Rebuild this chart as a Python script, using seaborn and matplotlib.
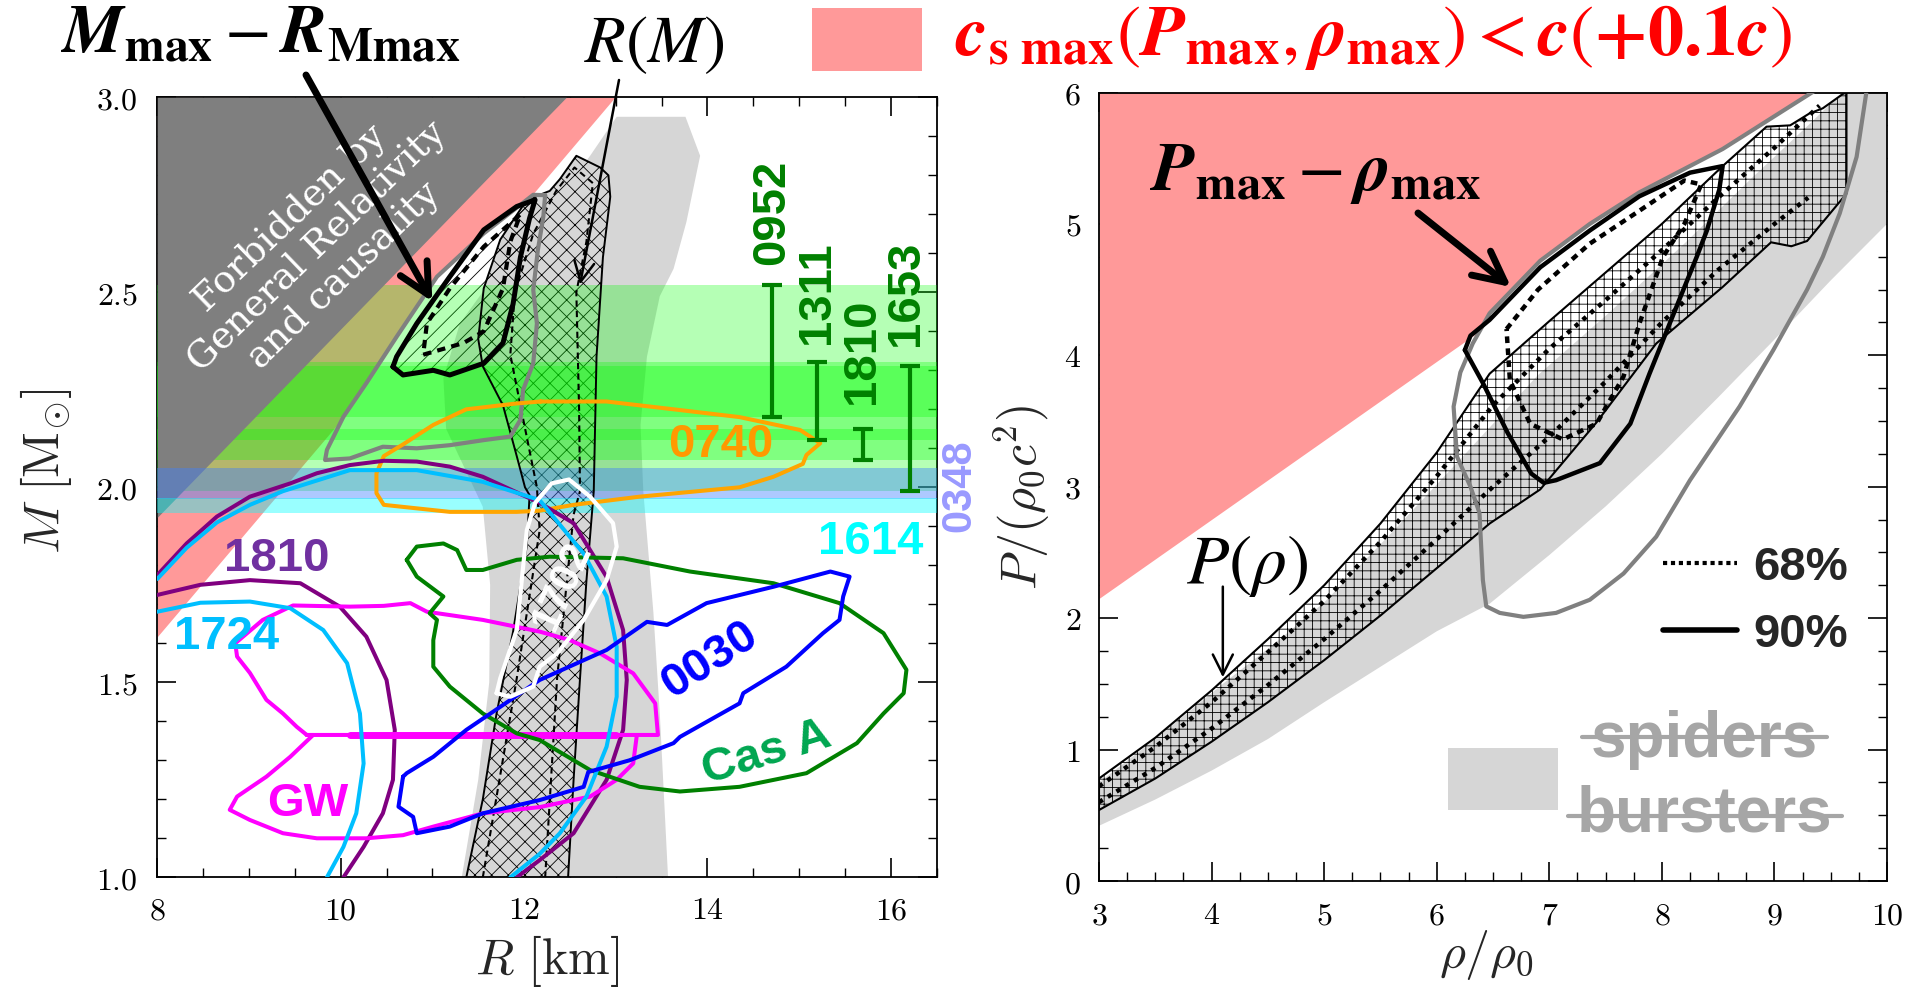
import matplotlib
matplotlib.use("Agg")
import numpy as np
import matplotlib.pyplot as plt
import seaborn as sns
from matplotlib.patches import Rectangle
from matplotlib.lines import Line2D
from matplotlib.ticker import MultipleLocator, FuncFormatter

# ---------------------------------------------------------------
# Mass-radius plane (left panel)
# ---------------------------------------------------------------
# edge of the c_s < c (+0.1c) region and of the GR + causality region
causal_R = [8.0, 12.99]
causal_M = [1.617, 3.0]
gr_R = [8.0, 12.46]
gr_M = [1.923, 3.0]

# spiders / bursters region
spider_R = [11.32, 11.5, 11.62, 11.63, 11.55, 11.35, 11.15, 11.12, 11.3, 11.7, 12.14, 12.5,
            12.72, 13.01, 13.76, 13.92, 13.77, 13.63, 13.48, 13.34, 13.27, 13.30, 13.41, 13.48, 13.57]
spider_M = [1.0, 1.25, 1.5, 1.75, 1.95, 2.05, 2.15, 2.28, 2.42, 2.55, 2.66, 2.78,
            2.85, 2.95, 2.95, 2.85, 2.68, 2.56, 2.49, 2.335, 2.16, 1.99, 1.68, 1.42, 1.0]

# R(M) band, 90% region
rm90_R = [11.37, 11.55, 11.70, 11.88, 12.03, 12.06, 12.01, 11.92, 11.77, 11.55, 11.50, 11.56,
          11.74, 12.03, 12.28, 12.39, 12.57, 12.83, 12.92, 12.94, 12.86, 12.79, 12.76, 12.68,
          12.61, 12.54, 12.48]
rm90_M = [1.0, 1.2, 1.42, 1.63, 1.85, 1.98, 2.0, 2.08, 2.21, 2.31, 2.38, 2.51,
          2.635, 2.737, 2.76, 2.79, 2.85, 2.82, 2.80, 2.745, 2.59, 2.335, 1.99, 1.76,
          1.51, 1.25, 1.0]
# R(M) band, 68% region
rm68_R = [11.55, 11.92, 12.17, 12.14, 11.96, 11.85, 11.9, 12.1, 12.35, 12.55, 12.75, 12.68,
          12.57, 12.6, 12.61, 12.54, 12.36, 12.23]
rm68_M = [1.0, 1.51, 1.89, 2.0, 2.21, 2.34, 2.5, 2.65, 2.76, 2.82, 2.78, 2.63,
          2.5, 2.2, 1.99, 1.93, 1.51, 1.0]

# M_max - R_Mmax posterior contours
mm90_R = [10.57, 10.68, 11.01, 11.19, 11.56, 11.77, 11.88, 11.96, 12.06, 12.12, 11.92, 11.56,
          11.19, 10.83, 10.61, 10.57]
mm90_M = [2.309, 2.288, 2.30, 2.288, 2.318, 2.37, 2.47, 2.59, 2.69, 2.737, 2.72, 2.66,
          2.54, 2.42, 2.335, 2.309]
mm68_R = [10.90, 11.34, 11.56, 11.77, 11.85, 11.96, 11.56, 11.19, 10.94, 10.90]
mm68_M = [2.34, 2.37, 2.40, 2.51, 2.63, 2.70, 2.617, 2.51, 2.42, 2.34]
mmg_R = [12.23, 12.21, 12.15, 12.10, 12.14, 12.10, 11.99, 11.96, 11.85, 11.56, 11.19, 10.83,
         10.46, 10.10, 9.83, 9.85, 10.03, 10.28, 10.61, 11.05, 11.56, 12.1, 12.23]
mmg_M = [2.749, 2.694, 2.608, 2.506, 2.42, 2.318, 2.25, 2.173, 2.13, 2.121, 2.108, 2.10,
         2.104, 2.074, 2.07, 2.096, 2.181, 2.267, 2.386, 2.54, 2.651, 2.75, 2.749]

# pulsar mass measurements (M +- err) and their error-bar columns
psr_names = ["0952", "1311", "1810", "1653"]
psr_M = [2.35, 2.22, 2.11, 2.15]
psr_err = [0.17, 0.10, 0.04, 0.16]
psr_col = [14.70, 15.19, 15.70, 16.21]
j0348_M, j0348_err = 2.01, 0.04
j1614_M, j1614_err = 1.953, 0.02

# observational contours
j0740_R = [12.18, 12.90, 13.63, 14.35, 15.01, 15.23, 15.08, 15.04, 14.72, 14.35, 13.26, 12.54,
           12.17, 11.92, 11.19, 10.47, 10.39, 10.39, 10.47, 10.68, 11.01, 11.37, 11.92, 12.18]
j0740_M = [2.22, 2.22, 2.20, 2.18, 2.147, 2.113, 2.083, 2.06, 2.027, 2.0, 1.976, 1.955,
           1.94, 1.937, 1.937, 1.955, 1.985, 2.036, 2.08, 2.11, 2.16, 2.20, 2.215, 2.22]

b1810_hi_R = [8.0, 8.32, 8.65, 9.01, 9.45, 9.74, 10.10, 10.47, 10.83, 11.19, 11.55, 12.17,
              12.54, 12.90, 13.08, 13.12, 13.08, 12.90, 12.54, 12.17, 11.92]
b1810_hi_M = [1.775, 1.856, 1.925, 1.976, 2.01, 2.036, 2.057, 2.068, 2.066, 2.053, 2.027, 1.96,
              1.908, 1.77, 1.634, 1.506, 1.378, 1.25, 1.113, 1.044, 1.0]
b1810_lo_R = [8.0, 8.47, 9.01, 9.56, 9.99, 10.28, 10.50, 10.59, 10.57, 10.46, 10.25, 10.03]
b1810_lo_M = [1.724, 1.75, 1.762, 1.754, 1.694, 1.617, 1.506, 1.378, 1.25, 1.164, 1.078, 1.0]

b1724_hi_R = [8.0, 8.32, 8.65, 9.01, 9.37, 10.10, 10.83, 11.55, 12.17, 12.65, 12.90, 13.01,
              13.01, 12.90, 12.68, 12.39, 12.17, 11.85]
b1724_hi_M = [1.765, 1.845, 1.91, 1.955, 1.99, 2.044, 2.044, 2.014, 1.967, 1.83, 1.72, 1.591,
              1.463, 1.335, 1.207, 1.113, 1.06, 1.0]
b1724_lo_R = [8.0, 8.47, 9.01, 9.45, 9.81, 10.07, 10.21, 10.25, 10.17, 10.03, 9.85]
b1724_lo_M = [1.681, 1.704, 1.707, 1.69, 1.634, 1.549, 1.42, 1.292, 1.164, 1.078, 1.0]

gw_up_R = [9.63, 9.52, 9.37, 9.19, 9.01, 8.87, 8.85, 9.15, 9.48, 10.10, 10.47, 10.76, 10.94,
           11.55, 12.17, 12.50, 12.83, 13.19, 13.43, 13.46, 9.63]
gw_up_M = [1.365, 1.386, 1.42, 1.455, 1.524, 1.566, 1.60, 1.66, 1.697, 1.694, 1.696, 1.703, 1.681,
           1.66, 1.63, 1.608, 1.574, 1.523, 1.446, 1.365, 1.365]
gw_lo_R = [9.70, 9.45, 9.19, 8.87, 8.79, 9.01, 9.37, 9.74, 10.28, 10.68, 11.01, 11.55, 12.17,
           12.72, 13.01, 13.19, 13.23]
gw_lo_M = [1.365, 1.309, 1.258, 1.207, 1.173, 1.147, 1.113, 1.10, 1.10, 1.108, 1.13, 1.164, 1.18,
           1.207, 1.25, 1.292, 1.365]
gw_eq_R = [10.1, 13.0]
gw_eq_M = [1.365, 1.365]

j0030_R = [10.68, 10.63, 10.79, 10.83, 11.19, 11.55, 12.17, 12.65, 12.70, 13.15, 13.63, 13.70,
           14.35, 14.39, 14.86, 15.26, 15.44, 15.48, 15.55, 15.34, 14.72, 13.99, 13.56, 13.34,
           12.90, 12.17, 11.74, 11.37, 11.01, 10.72, 10.68]
j0030_M = [1.258, 1.181, 1.155, 1.113, 1.13, 1.164, 1.198, 1.232, 1.27, 1.30, 1.344, 1.36,
           1.446, 1.472, 1.54, 1.626, 1.66, 1.72, 1.771, 1.784, 1.745, 1.703, 1.647, 1.655,
           1.583, 1.506, 1.437, 1.378, 1.309, 1.267, 1.258]

casa_R = [10.72, 10.83, 11.12, 11.27, 11.37, 11.55, 11.92, 12.28, 13.08, 13.81, 14.72, 15.44,
          15.92, 16.17, 16.14, 15.92, 15.63, 15.08, 14.35, 13.70, 13.26, 12.72, 12.17, 11.92,
          11.55, 11.19, 11.01, 11.01, 11.05, 10.97, 11.12, 10.83, 10.72]
casa_M = [1.814, 1.848, 1.856, 1.839, 1.788, 1.788, 1.814, 1.822, 1.818, 1.784, 1.754, 1.703,
          1.626, 1.532, 1.472, 1.42, 1.344, 1.267, 1.232, 1.22, 1.232, 1.275, 1.352, 1.369,
          1.42, 1.489, 1.54, 1.608, 1.66, 1.677, 1.72, 1.771, 1.814]

j1702_R = [11.70, 11.74, 11.92, 12.03, 12.12, 12.3, 12.49, 12.72, 12.97, 13.01, 12.90, 12.65,
           12.36, 12.17, 12.10, 11.85, 11.70]
j1702_M = [1.472, 1.51, 1.634, 1.89, 1.96, 2.01, 2.02, 1.976, 1.908, 1.848, 1.762, 1.66,
           1.574, 1.54, 1.489, 1.463, 1.472]

# ---------------------------------------------------------------
# Pressure-density plane (right panel)
# ---------------------------------------------------------------
cs_rho = [3.0, 9.4]
cs_P = [2.15, 6.0]

sb_rho = [3.0, 3.5, 4.0, 4.5, 5.0, 5.5, 6.0, 6.47, 7.0, 7.5, 8.0, 8.5, 9.0, 9.5, 10.0,
          10.0, 9.6, 9.3, 8.8, 8.2, 7.5, 6.9, 6.2, 5.6, 5.0, 4.55, 4.1, 3.5, 3.0]
sb_P = [0.42, 0.62, 0.84, 1.08, 1.36, 1.63, 1.9, 2.11, 2.48, 2.85, 3.25, 3.68, 4.12, 4.57, 5.0,
        6.0, 6.0, 5.75, 5.35, 4.85, 4.3, 3.85, 3.2, 2.65, 2.12, 1.8, 1.50, 1.08, 0.75]

band_rho = [3.0, 3.5, 4.0, 4.5, 5.0, 5.5, 6.0, 6.47, 6.92, 7.42, 7.95, 8.54, 8.97, 9.15, 9.29,
            9.64, 9.64, 9.61, 9.43, 9.31, 9.14, 8.93, 8.54, 8.0, 7.5, 7.0, 6.47, 6.0, 5.5,
            5.0, 4.5, 4.0, 3.5, 3.0]
band_P = [0.54, 0.78, 1.06, 1.36, 1.68, 2.02, 2.38, 2.72, 2.98, 3.49, 4.09, 4.52, 4.86, 4.83, 4.87,
          5.23, 6.0, 5.99, 5.88, 5.84, 5.75, 5.74, 5.44, 5.0, 4.63, 4.26, 3.86, 3.26, 2.72,
          2.25, 1.84, 1.45, 1.09, 0.78]

d68a_rho = [3.0, 3.5, 4.0, 4.5, 5.0, 5.5, 6.0, 6.5, 7.0, 7.5, 8.0, 8.5, 9.0, 9.4]
d68a_P = [0.72, 1.02, 1.36, 1.74, 2.13, 2.58, 3.08, 3.62, 4.05, 4.42, 4.8, 5.2, 5.58, 5.9]
d68b_rho = [3.0, 3.5, 4.0, 4.5, 5.0, 5.5, 6.0, 6.5, 7.0, 7.5, 8.0, 8.5, 9.0, 9.3]
d68b_P = [0.6, 0.86, 1.16, 1.49, 1.84, 2.21, 2.6, 3.0, 3.38, 3.8, 4.25, 4.65, 5.0, 5.2]

pm90_rho = [6.25, 6.41, 6.63, 6.84, 6.95, 7.06, 7.45, 7.72, 7.89, 8.13, 8.31, 8.40, 8.51, 8.54,
            8.25, 7.80, 7.36, 6.92, 6.47, 6.30, 6.25]
pm90_P = [4.04, 3.79, 3.41, 3.10, 3.03, 3.05, 3.18, 3.48, 3.86, 4.37, 4.75, 4.95, 5.26, 5.44,
          5.39, 5.21, 4.95, 4.67, 4.27, 4.15, 4.04]
pm68_rho = [6.62, 6.9, 7.36, 7.80, 8.2, 8.35, 8.2, 8.01, 7.80, 7.66, 7.42, 7.12, 6.83, 6.65, 6.62]
pm68_P = [4.20, 4.50, 4.85, 5.10, 5.33, 5.3, 5.0, 4.75, 4.24, 3.84, 3.48, 3.36, 3.48, 3.81, 4.20]

pg_rho = [9.82, 9.73, 9.58, 9.43, 9.29, 8.99, 8.69, 8.25, 7.95, 7.66, 7.36, 7.06, 6.77, 6.56,
          6.44, 6.41, 6.38, 6.30, 6.18, 6.15, 6.21, 6.32, 6.47, 6.92, 7.36, 7.80, 8.54, 9.37]
pg_P = [6.02, 5.51, 5.08, 4.75, 4.50, 4.04, 3.61, 3.05, 2.62, 2.34, 2.14, 2.04, 2.01, 2.04,
        2.09, 2.29, 2.80, 3.0, 3.23, 3.61, 3.87, 4.09, 4.32, 4.72, 5.0, 5.24, 5.57, 6.02]

# ---------------------------------------------------------------
sns.set_theme(style="ticks")
plt.rcParams.update({
    "font.family": ["DejaVu Sans"],
    "mathtext.fontset": "cm",
    "hatch.linewidth": 0.6,
    "axes.linewidth": 1.3,
    "axes.edgecolor": "black",
})

W, H = 1907, 1000
fig = plt.figure(figsize=(W / 100, H / 100), dpi=100)


def fx(px):
    return px / W


def fy(py):
    return 1 - py / H


ax1 = fig.add_axes([fx(157.3), fy(877.3), (936.7 - 157.3) / W, (877.3 - 97.3) / H])
ax2 = fig.add_axes([fx(1099), fy(881), 788 / W, (881 - 92.5) / H])


def trace(ax, x, y, color, lw, ls="-", z=6):
    sns.lineplot(x=list(x), y=list(y), sort=False, estimator=None, ax=ax,
                 color=color, linewidth=lw, linestyle=ls, zorder=z)


SANS = "Liberation Sans"
GREEN = "#008000"
CLW = 2.9  # width of the observational contours

# ------------------------- left panel --------------------------
ax1.fill_between(causal_R, causal_M, 3.0, color="#ff9999", lw=0, zorder=1.0)
ax1.fill(mmg_R, mmg_M, color="white", lw=0, zorder=1.2)
ax1.fill(spider_R, spider_M, color="#d6d6d6", lw=0, zorder=1.4)
ax1.fill(rm90_R, rm90_M, facecolor="#d6d6d6", edgecolor="black", hatch="xx", lw=0, zorder=1.6)
ax1.fill(mm90_R, mm90_M, facecolor="none", edgecolor="black", hatch="//", lw=0, zorder=1.8)

for m, e in zip(psr_M, psr_err):
    ax1.axhspan(m - e, m + e, color=(0.0, 1.0, 0.0), alpha=0.29, lw=0, zorder=3)
ax1.fill_between(gr_R, gr_M, 3.0, color="#7f7f7f", lw=0, zorder=3.5)
ax1.axhspan(j0348_M - j0348_err, j0348_M + j0348_err, color="#3d7fff", alpha=0.42, lw=0, zorder=3.7)
ax1.axhspan(j1614_M - j1614_err, j1614_M + j1614_err, color=(0.0, 1.0, 1.0), alpha=0.4, lw=0, zorder=3.7)

trace(ax1, rm90_R, rm90_M, "black", 1.4)
trace(ax1, rm68_R, rm68_M, "black", 1.5, (0, (3, 2)))
trace(ax1, mmg_R, mmg_M, "#808080", 3.0)
trace(ax1, mm90_R, mm90_M, "black", 3.6)
trace(ax1, mm68_R, mm68_M, "black", 3.0, (0, (2, 1.5)))

trace(ax1, j0740_R, j0740_M, "#ffa500", CLW, z=7)
trace(ax1, b1810_hi_R, b1810_hi_M, "#800080", CLW, z=7)
trace(ax1, b1810_lo_R, b1810_lo_M, "#800080", CLW, z=7)
trace(ax1, b1724_hi_R, b1724_hi_M, "#00bfff", CLW, z=7.1)
trace(ax1, b1724_lo_R, b1724_lo_M, "#00bfff", CLW, z=7.1)
trace(ax1, gw_up_R, gw_up_M, "#ff00ff", CLW, z=7)
trace(ax1, gw_lo_R, gw_lo_M, "#ff00ff", CLW, z=7)
trace(ax1, gw_eq_R, gw_eq_M, "#ff00ff", 5.0, z=7)
trace(ax1, j0030_R, j0030_M, "#0000ff", CLW, z=7.2)
trace(ax1, casa_R, casa_M, "#008000", CLW, z=7)
trace(ax1, j1702_R, j1702_M, "white", 3.0, z=7.3)

ax1.errorbar(psr_col, psr_M, yerr=psr_err, fmt="none", ecolor=GREEN,
             elinewidth=3, capsize=7, capthick=3, zorder=8)

lab = dict(fontsize=34, fontweight="bold", family=SANS, ha="center", va="center", zorder=9)
ax1.text(14.70, 2.705, "0952", rotation=90, color=GREEN, **lab)
ax1.text(15.19, 2.498, "1311", rotation=90, color=GREEN, **lab)
ax1.text(15.68, 2.348, "1810", rotation=90, color=GREEN, **lab)
ax1.text(16.17, 2.498, "1653", rotation=90, color=GREEN, **lab)
ax1.text(14.15, 2.108, "0740", color="#ff9900", **lab)
ax1.text(16.75, 2.003, "0348", rotation=90, color="#9999ff", **{**lab, "fontsize": 30})
ax1.text(15.78, 1.86, "1614", color="#00ffff", **lab)
ax1.text(9.30, 1.816, "1810", color="#7030a0", **lab)
ax1.text(8.76, 1.617, "1724", color="#00bfff", **lab)
ax1.text(9.64, 1.187, "GW", color="#ff00ff", **lab)
ax1.text(14.03, 1.557, "0030", rotation=33, color="#0000ff", **lab)
ax1.text(14.65, 1.318, "Cas A", rotation=17, color="#00a650", **lab)
ax1.text(12.42, 1.745, "1702", rotation=66, color="white", **{**lab, "fontsize": 30})
ax1.text(9.74, 2.617, "Forbidden by\nGeneral Relativity\nand causality", rotation=44,
         color="white", fontsize=27, family="DejaVu Serif", ha="center", va="center",
         linespacing=1.1, zorder=9, rotation_mode="anchor")

ax1.set_xlim(8, 16.5)
ax1.set_ylim(1.0, 3.0)
ax1.xaxis.set_major_locator(MultipleLocator(2))
ax1.xaxis.set_minor_locator(MultipleLocator(0.5))
ax1.yaxis.set_major_locator(MultipleLocator(0.5))
ax1.yaxis.set_minor_locator(MultipleLocator(0.1))
ax1.xaxis.set_major_formatter(FuncFormatter(lambda v, _: f"${v:.0f}$"))
ax1.yaxis.set_major_formatter(FuncFormatter(lambda v, _: f"${v:.1f}$"))
ax1.set_xlabel(r"$R\ [\mathrm{km}]$", fontsize=36)
ax1.set_ylabel(r"$M\ [\mathrm{M}_{\odot}]$", fontsize=36)

# ------------------------- right panel -------------------------
ax2.fill_between(cs_rho, cs_P, 6.0, color="#ff9999", lw=0, zorder=1.0)
ax2.fill(pg_rho, pg_P, color="white", lw=0, zorder=1.2)
ax2.fill(sb_rho, sb_P, color="#d6d6d6", lw=0, zorder=1.4)
ax2.fill(band_rho, band_P, facecolor="none", edgecolor="black", hatch="++", lw=0, zorder=2)

trace(ax2, band_rho + [band_rho[0]], band_P + [band_P[0]], "black", 1.5)
trace(ax2, d68a_rho, d68a_P, "black", 3.2, (0, (1, 1.3)))
trace(ax2, d68b_rho, d68b_P, "black", 3.2, (0, (1, 1.3)))
trace(ax2, pg_rho, pg_P, "#808080", 3.0)
trace(ax2, pm90_rho, pm90_P, "black", 3.2)
trace(ax2, pm68_rho, pm68_P, "black", 3.2, (0, (1.5, 1.2)))

ax2.set_xlim(3, 10)
ax2.set_ylim(0, 6)
ax2.xaxis.set_major_locator(MultipleLocator(1))
ax2.xaxis.set_minor_locator(MultipleLocator(0.25))
ax2.yaxis.set_major_locator(MultipleLocator(1))
ax2.yaxis.set_minor_locator(MultipleLocator(0.25))
ax2.xaxis.set_major_formatter(FuncFormatter(lambda v, _: f"${v:.0f}$"))
ax2.yaxis.set_major_formatter(FuncFormatter(lambda v, _: f"${v:.0f}$"))
ax2.set_xlabel(r"$\rho/\rho_0$", fontsize=36)
ax2.set_ylabel(r"$P/(\rho_0 c^2)$", fontsize=36)

for ax in (ax1, ax2):
    ax.tick_params(which="both", direction="in", top=True, right=True,
                   bottom=True, left=True, colors="black", labelsize=23)
    ax.tick_params(which="major", length=13.7, width=1.2)
    ax.tick_params(which="minor", length=6.8, width=1.0)
    ax.grid(False)
    for s in ax.spines.values():
        s.set_visible(True)
        s.set_linewidth(1.3)
        s.set_color("black")
ax1.tick_params(axis="x", pad=13)
ax1.tick_params(axis="y", pad=14)
ax2.tick_params(axis="x", pad=14)
ax2.tick_params(axis="y", pad=13)

for lbl in (ax1.xaxis.label, ax1.yaxis.label, ax2.xaxis.label, ax2.yaxis.label):
    lbl.set_rotation_mode("default")
    lbl.set_ha("center")
    lbl.set_va("center")
ax1.xaxis.set_label_coords(0.5, -0.107)
ax1.yaxis.set_label_coords(-0.143, 0.521)
ax2.xaxis.set_label_coords(0.492, -0.094)
ax2.yaxis.set_label_coords(-0.098, 0.486)

# ------------------------- annotations -------------------------
big = dict(math_fontfamily="stix", va="baseline", ha="left")
fig.text(fx(61), fy(53), r"$\mathbfit{M}_{\mathbf{max}}-\mathbfit{R}_{\mathbf{Mmax}}$",
         fontsize=49, color="black", **big)
fig.text(fx(654), fy(62), r"$R(M)$", fontsize=48, color="black",
         math_fontfamily="stix", va="baseline", ha="center")
fig.patches.append(Rectangle((fx(812), fy(71)), 110 / W, 63 / H, transform=fig.transFigure,
                             facecolor="#ff9999", edgecolor="none", figure=fig))
fig.text(fx(955), fy(55),
         r"$\mathbfit{c}_{\mathbf{s\ max}}(\mathbfit{P}_{\mathbf{max}},\mathbfit{\rho}_{\mathbf{max}})<\mathbfit{c}(\mathbf{+0.1}\mathbfit{c})$",
         fontsize=52, color="#ff0000", **big)
fig.text(fx(1150), fy(190), r"$\mathbfit{P}_{\mathbf{max}}-\mathbfit{\rho}_{\mathbf{max}}$",
         fontsize=50, color="black", **big)
fig.text(fx(1247), fy(583), r"$P(\rho)$", fontsize=50, color="black",
         math_fontfamily="stix", va="baseline", ha="center")

thick_arrow = dict(arrowstyle="->,head_length=1.1,head_width=0.55", lw=5, color="black",
                   shrinkA=0, shrinkB=0, mutation_scale=20)
thin_arrow = dict(arrowstyle="->,head_length=1.2,head_width=0.6", lw=1.8, color="black",
                  shrinkA=0, shrinkB=0, mutation_scale=12)
ax1.annotate("", xy=(11.0, 2.476), xytext=(306, H - 75), textcoords="figure pixels",
             arrowprops=thick_arrow, annotation_clip=False, zorder=10)
ax1.annotate("", xy=(12.61, 2.52), xytext=(619, H - 80), textcoords="figure pixels",
             arrowprops=thin_arrow, annotation_clip=False, zorder=10)
ax2.annotate("", xy=(6.66, 4.52), xytext=(1418, H - 213), textcoords="figure pixels",
             arrowprops=thick_arrow, annotation_clip=False, zorder=10)
ax2.annotate("", xy=(4.1, 1.55), xytext=(4.1, 2.24),
             arrowprops=thin_arrow, annotation_clip=False, zorder=10)

# 68% / 90% key
fig.lines.append(Line2D([fx(1663), fx(1737)], [fy(563), fy(563)], transform=fig.transFigure,
                        color="black", lw=3.0, linestyle=(0, (1, 0.9)), figure=fig))
fig.lines.append(Line2D([fx(1663), fx(1737)], [fy(630), fy(630)], transform=fig.transFigure,
                        color="black", lw=4.0, figure=fig))
fig.text(fx(1753), fy(580), "68%", fontsize=34, fontweight="bold", family=SANS,
         ha="left", va="baseline")
fig.text(fx(1753), fy(647), "90%", fontsize=34, fontweight="bold", family=SANS,
         ha="left", va="baseline")

# spiders / bursters key (struck through)
fig.patches.append(Rectangle((fx(1448), fy(810)), 110 / W, 62 / H, transform=fig.transFigure,
                             facecolor="#d6d6d6", edgecolor="none", figure=fig, zorder=5))
fig.text(fx(1704), fy(757), "spiders", fontsize=46, fontweight="bold", family=SANS,
         color="#a6a6a6", ha="center", va="baseline", zorder=6)
fig.text(fx(1705), fy(832), "bursters", fontsize=46, fontweight="bold", family=SANS,
         color="#a6a6a6", ha="center", va="baseline", zorder=6)
fig.lines.append(Line2D([fx(1582), fx(1827)], [fy(737), fy(737)], transform=fig.transFigure,
                        color="#a6a6a6", lw=3.0, figure=fig, zorder=7))
fig.lines.append(Line2D([fx(1568), fx(1842)], [fy(816), fy(816)], transform=fig.transFigure,
                        color="#a6a6a6", lw=3.0, figure=fig, zorder=7))

fig.savefig("out.png", dpi=100, facecolor="white")
